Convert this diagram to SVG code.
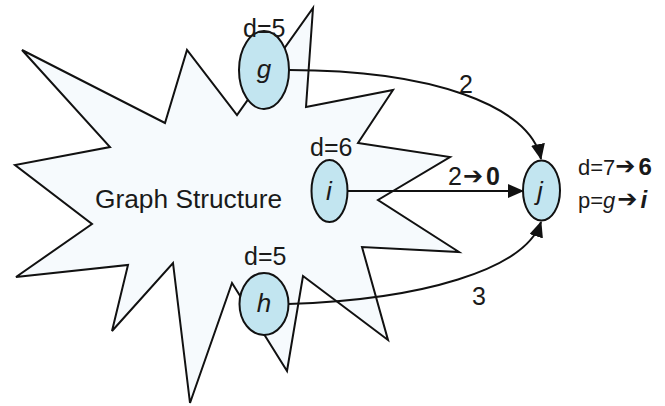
<svg xmlns="http://www.w3.org/2000/svg" width="665" height="406" viewBox="0 0 665 406">
<style>
text{font-family:"Liberation Sans",Arial,sans-serif;fill:#1a1a1a}
.lbl{font-size:25px}
.sm{font-size:22px}
.title{font-size:26.3px}
.node ellipse{fill:#c2e5f0;stroke:#111;stroke-width:2}
.nl{font-size:26px;font-style:italic;text-anchor:middle}
.edge{fill:none;stroke:#111;stroke-width:2}
.b{font-weight:bold}
.ar{font-family:"DejaVu Sans",sans-serif;font-size:24px}
</style>
<defs>
<marker id="ah" viewBox="0 0 16 14" refX="15" refY="7" markerWidth="16" markerHeight="14" markerUnits="userSpaceOnUse" orient="auto">
<path d="M0,0 L16,7 L0,14 Z" fill="#111"/>
</marker>
</defs>
<rect width="665" height="406" fill="#ffffff"/>
<g id="structure">
<polygon points="22,50 165,123 187,50 237,115 313,8 306,107 393,90 358,143 450,157 378,200 459,252 362,247 388,340 303,276 287,371 232,283 190,403 173,263 112,331 128,265 16,277 92,224 15,165 110,147" fill="#f6fafd" stroke="#111" stroke-width="2" stroke-linejoin="miter"/>
<text class="title" x="95" y="208">Graph Structure</text>
</g>
<g id="connectors">
<path class="edge" d="M289,70 C430,70 530,105 541,159" marker-end="url(#ah)"/>
<path class="edge" d="M347,191 L523,191" marker-end="url(#ah)"/>
<path class="edge" d="M288,304 C420,300 525,270 541,222" marker-end="url(#ah)"/>
<text class="lbl" x="459" y="93">2</text>
<text class="lbl" x="448" y="185">2<tspan class="ar" dx="1" dy="-1">➔</tspan><tspan class="b" dx="3" dy="1">0</tspan></text>
<text class="lbl" x="472" y="305">3</text>
</g>
<g id="node-g" class="node">
<ellipse cx="264" cy="70" rx="25" ry="39"/>
<text class="nl" x="264" y="78">g</text>
<text class="lbl" x="243" y="37">d=5</text>
</g>
<g id="node-i" class="node">
<ellipse cx="329.5" cy="191" rx="18" ry="31"/>
<text class="nl" x="329" y="200">i</text>
<text class="lbl" x="310" y="156">d=6</text>
</g>
<g id="node-h" class="node">
<ellipse cx="264" cy="304" rx="24.5" ry="31"/>
<text class="nl" x="264" y="312">h</text>
<text class="lbl" x="244" y="265">d=5</text>
</g>
<g id="node-j" class="node">
<ellipse cx="541.5" cy="190.5" rx="18.5" ry="30"/>
<text class="nl" x="540" y="200">j</text>
<text class="sm" x="578" y="175">d=7<tspan class="ar" dx="0" dy="-1">➔</tspan><tspan class="b" font-size="24" dx="3" dy="1">6</tspan></text>
<text class="sm" x="578" y="208">p=<tspan font-style="italic">g</tspan><tspan class="ar" dx="2" dy="-1">➔</tspan><tspan class="b" font-style="italic" font-size="24" dx="3" dy="1">i</tspan></text>
</g>
</svg>
